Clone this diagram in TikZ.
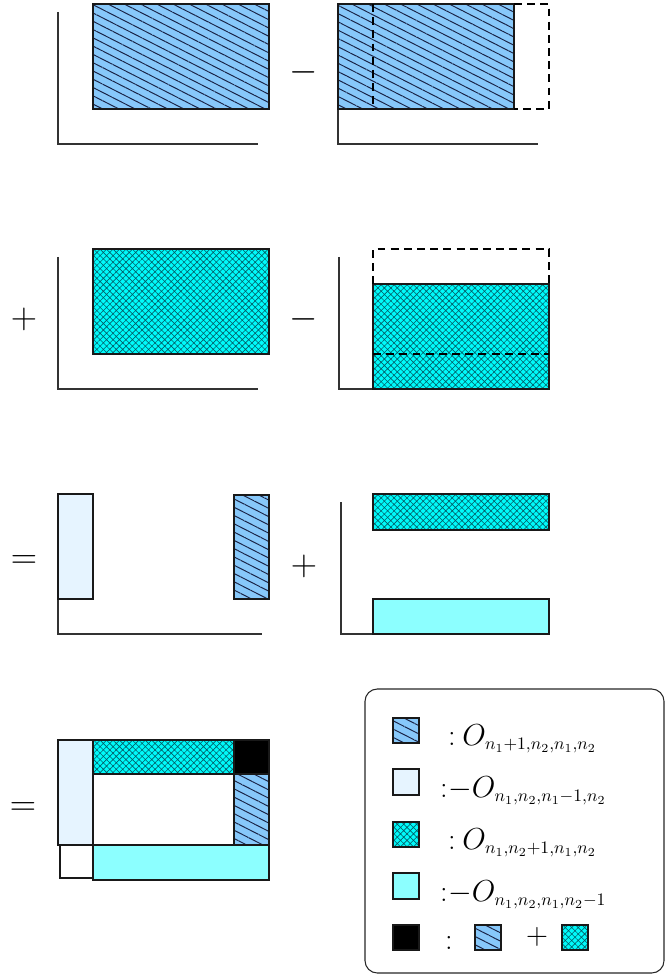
\documentclass[tikz,border=0pt]{standalone}
\usepackage{amssymb,amsmath}
\usepackage{pgf,tikz}
\usetikzlibrary{patterns.meta}
\DeclareMathSizes{17.28}{17.28}{10}{7}
\definecolor{hatchblue}{RGB}{135,200,250}
\definecolor{hatchink}{RGB}{25,35,70}
\definecolor{crosscyan}{RGB}{0,250,250}
\definecolor{crossink}{RGB}{0,95,105}
\definecolor{paleblue}{RGB}{230,244,255}
\definecolor{softcyan}{RGB}{140,255,255}
\tikzset{edge box/.style={draw=black!90, line width=0.9pt}, hatchbox/.style={edge box, preaction={fill=hatchblue}, pattern={Lines[angle=-27,distance=4.2pt,line width=0.55pt]}, pattern color=hatchink}, crossbox/.style={edge box, preaction={fill=crosscyan}, pattern={Hatch[angle=45,distance=2.6pt,line width=0.35pt]}, pattern color=crossink}, palebox/.style={edge box, fill=paleblue}, cyanbox/.style={edge box, fill=softcyan}, blackbox/.style={edge box, fill=black}, axisline/.style={draw=black!80, line width=0.6pt}, ghost/.style={draw=black, line width=0.9pt, dash pattern=on 4.5pt off 3pt}, sign/.style={font=\fontsize{20}{24}\selectfont, inner sep=0pt}, legtext/.style={font=\LARGE, inner sep=0pt, anchor=base west}}

\begin{document}
\begin{tikzpicture}[x=0.02cm,y=-0.02cm]
\useasboundingbox (0,0) rectangle (665,976);
% row 1
\draw[axisline] (58,12) -- (58,144) -- (258,144);
\draw[hatchbox] (93,4) rectangle (269,109);
\node[sign] (minA) at (304,72) {$-$};
\draw[axisline] (338,12) -- (338,144) -- (538,144);
\draw[hatchbox] (338,4) rectangle (514,109);
\draw[ghost] (373,4) -- (373,109);
\draw[ghost] (514,4) -- (549,4) -- (549,109) -- (514,109);
% row 2
\node[sign] (plusA) at (24,319) {$+$};
\draw[axisline] (58,257) -- (58,389) -- (258,389);
\draw[crossbox] (93,249) rectangle (269,354);
\node[sign] (minB) at (304,319) {$-$};
\draw[axisline] (339,257) -- (339,389) -- (373,389);
\draw[crossbox] (373,284) rectangle (549,389);
\draw[ghost] (373,354) -- (549,354);
\draw[ghost] (373,284) -- (373,249) -- (549,249) -- (549,284);
% row 3
\node[sign] (eqA) at (24,562) {$=$};
\draw[axisline] (58,599) -- (58,634) -- (262,634);
\draw[palebox] (58,494) rectangle (93,599);
\draw[hatchbox] (234,495) rectangle (269,599);
\node[sign] (plusB) at (304,566) {$+$};
\draw[axisline] (341,502) -- (341,634) -- (373,634);
\draw[crossbox] (373,494) rectangle (549,530);
\draw[cyanbox] (373,599) rectangle (549,634);
% row 4
\node[sign] (eqB) at (23,809) {$=$};
\draw[edge box] (60,845) rectangle (93,878);
\draw[palebox] (58,740) rectangle (93,845);
\draw[edge box] (93,774) rectangle (234,845);
\draw[crossbox] (93,740) rectangle (234,774);
\draw[blackbox] (234,740) rectangle (269,774);
\draw[hatchbox] (234,774) rectangle (269,845);
\draw[cyanbox] (93,845) rectangle (269,880);
% legend
\draw[draw=black!85, line width=0.6pt, rounded corners=7pt] (365,689) rectangle (664,973);
\draw[hatchbox, line width=0.6pt] (393,718) rectangle (419,743);
\node[legtext, anchor=base] (colA) at (452,745) {$:$};
\node[legtext] (keyA) at (462,745) {$O_{n_1+1,n_2,n_1,n_2}$};
\draw[palebox, line width=0.6pt] (393,769) rectangle (419,795);
\node[legtext, anchor=base] (colB) at (444,797) {$:$};
\node[legtext] (keyB) at (448,797) {$-O_{n_1,n_2,n_1-1,n_2}$};
\draw[crossbox, line width=0.6pt] (393,822) rectangle (419,847);
\node[legtext, anchor=base] (colC) at (452,849) {$:$};
\node[legtext] (keyC) at (462,849) {$O_{n_1,n_2+1,n_1,n_2}$};
\draw[cyanbox, line width=0.6pt] (393,873) rectangle (419,899);
\node[legtext, anchor=base] (colD) at (444,901) {$:$};
\node[legtext] (keyD) at (448,901) {$-O_{n_1,n_2,n_1,n_2-1}$};
\draw[blackbox, line width=0.6pt] (393,925) rectangle (419,950);
\node[legtext, anchor=base] (colE) at (449,949) {$:$};
\draw[hatchbox, line width=0.6pt] (475,925) rectangle (501,950);
\node[font=\fontsize{17}{20}\selectfont, inner sep=0pt] (plusC) at (537,937) {$+$};
\draw[crossbox, line width=0.6pt] (562,925) rectangle (588,950);
\end{tikzpicture}
\end{document}
